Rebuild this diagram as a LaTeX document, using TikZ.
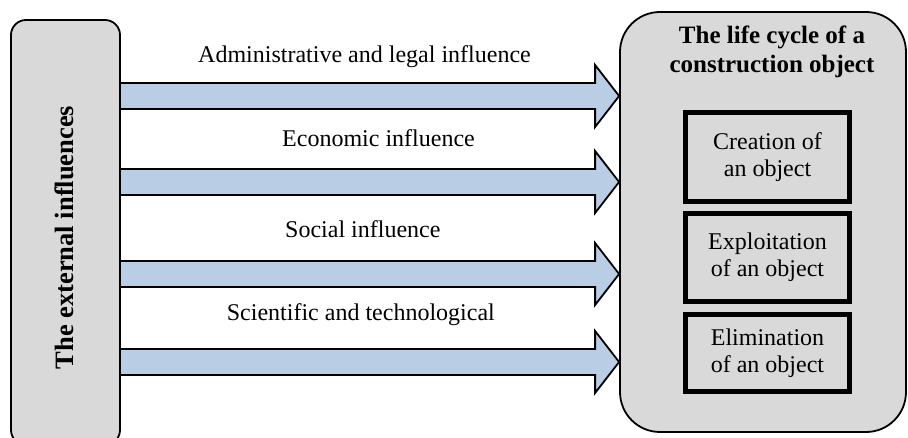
\documentclass[tikz,border=0pt]{standalone}
\usepackage{fontspec}
\setmainfont{Liberation Serif}
\usetikzlibrary{calc,backgrounds}
\definecolor{panelgray}{HTML}{D9D9D9}
\definecolor{flowblue}{HTML}{B9CDE5}
\begin{document}
\begin{tikzpicture}[x=1pt,y=-1pt,
  panel/.style={draw=black, line width=1.8pt, fill=panelgray},
  stage/.style={draw=black, line width=5pt, fill=panelgray, minimum width=164pt,
    align=center, inner sep=0pt, font=\fontsize{24}{27}\selectfont},
  flow/.style={draw=black, line width=1.8pt, fill=flowblue, line join=miter},
  lbl/.style={inner sep=0pt, font=\fontsize{24}{27}\selectfont}]
\useasboundingbox (0,0) rectangle (908,438);

% outer panels
\node[panel, rounded corners=15pt, minimum width=109pt, minimum height=425pt] (ext) at (65.5,232.5) {};
\node[rotate=90, anchor=base, inner sep=0pt, font=\bfseries\fontsize{26.5}{30}\selectfont]
  (extlbl) at (73,237.5) {The external influences};

\node[panel, rounded corners=40pt, minimum width=286pt, minimum height=420pt] (life) at (763,222) {};
\node[align=center, inner sep=0pt, font=\bfseries\fontsize{25}{29}\selectfont]
  (lifelbl) at (772,52) {The life cycle of a\\construction object};

% stages of the life cycle
\node[stage, minimum height=89pt] (create) at (767.5,157) {Creation of\\an object};
\node[stage, minimum height=88pt] (exploit) at (767.5,257.5) {Exploitation\\of an object};
\node[stage, minimum height=77pt] (elim) at (767.5,353) {Elimination\\of an object};

% influence arrows
\begin{pgfonlayer}{background}
\foreach \y [count=\i] in {96,182,274,362} {
  \coordinate (s\i) at (ext.east |- 0,\y);
  \coordinate (t\i) at (life.west |- 0,\y);
  \draw[flow] ($(s\i)+(0,-13)$) -- ($(t\i)+(-24,-13)$) -- ($(t\i)+(-24,-31)$) -- (t\i)
    -- ($(t\i)+(-24,31)$) -- ($(t\i)+(-24,13)$) -- ($(s\i)+(0,13)$);
}
\end{pgfonlayer}

% influence labels
\node[lbl, anchor=base west] (l1) at (198,63) {Administrative and legal influence};
\node[lbl, anchor=base west] (l2) at (282,147) {Economic influence};
\node[lbl, anchor=base west] (l3) at (285,238) {Social influence};
\node[lbl, anchor=base east] (l4) at (495,321) {Scientific and technological};
\end{tikzpicture}
\end{document}
